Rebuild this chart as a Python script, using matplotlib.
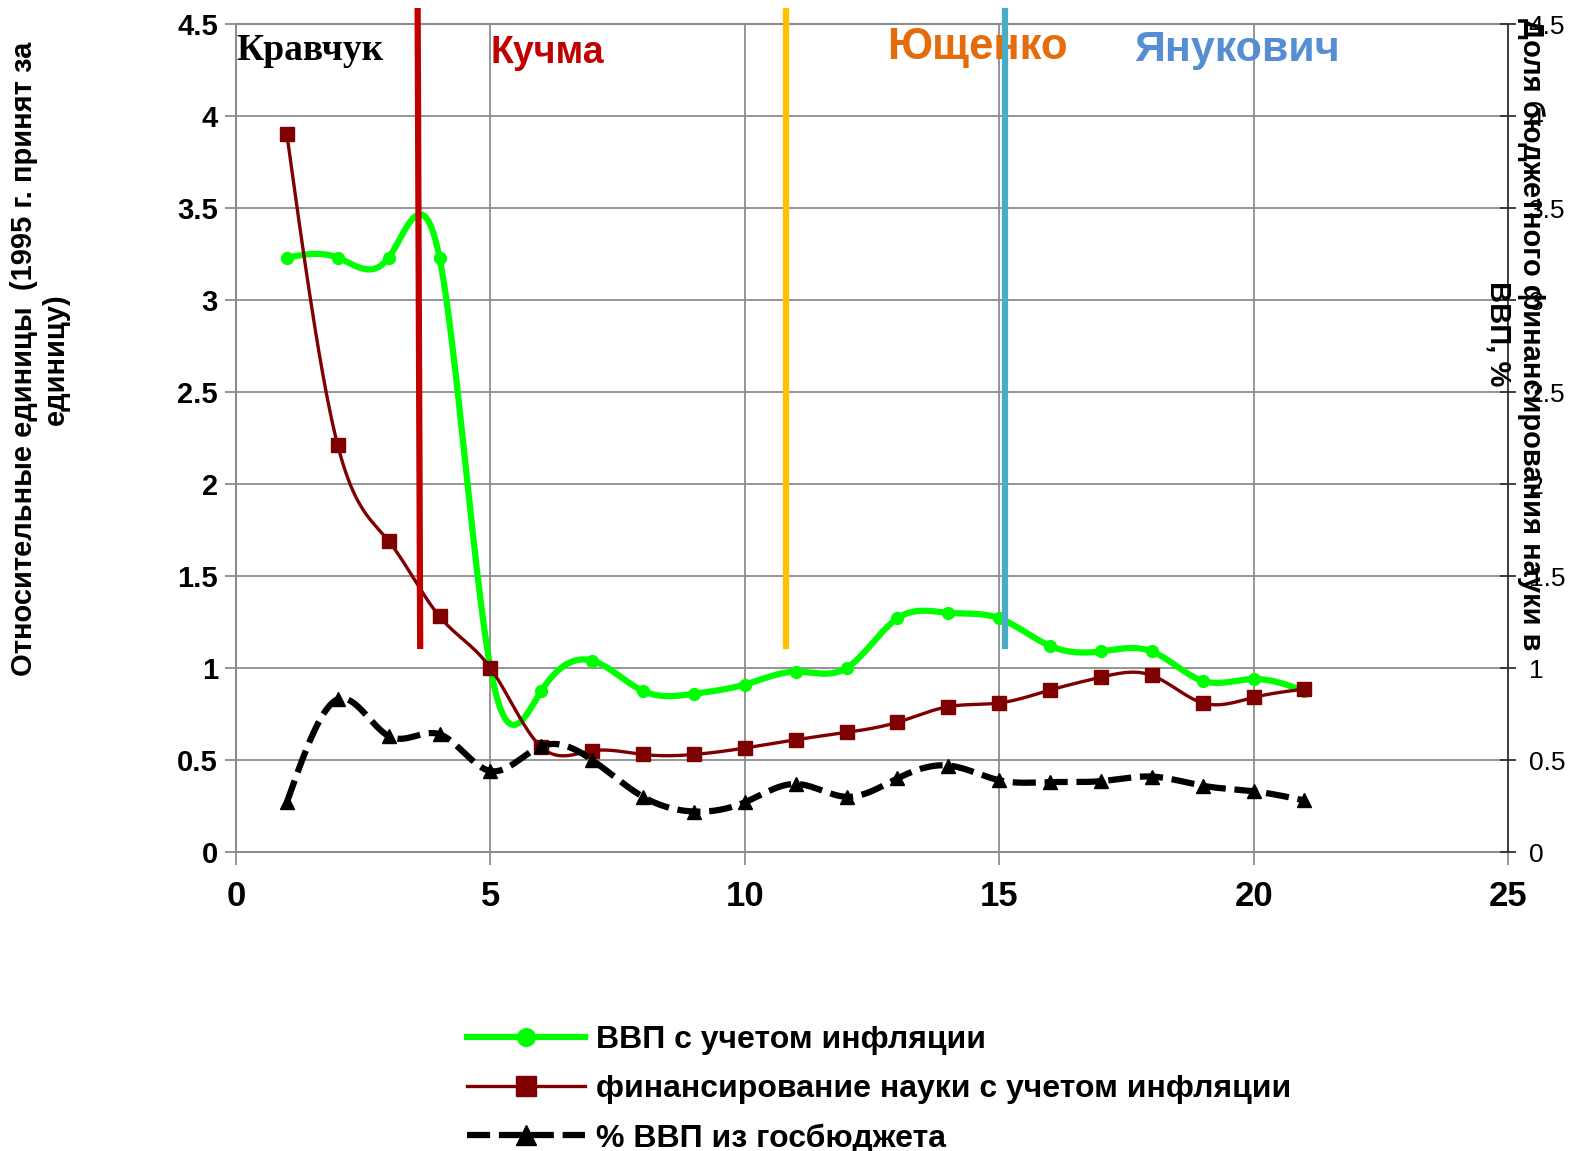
import numpy as np
import matplotlib
matplotlib.use("Agg")
import matplotlib.pyplot as plt
from matplotlib.lines import Line2D

plt.rcParams['font.family'] = ['Liberation Sans', 'DejaVu Sans']

# годы по порядку (1..21)
years = list(range(1, 22))
gdp = [3.23, 3.23, 3.23, 3.23, 1.00, 0.875, 1.04, 0.875, 0.86, 0.91, 0.98,
       1.00, 1.27, 1.30, 1.27, 1.12, 1.09, 1.09, 0.93, 0.94, 0.875]
science = [3.90, 2.21, 1.69, 1.28, 1.00, 0.57, 0.55, 0.53, 0.53, 0.565, 0.61,
           0.65, 0.705, 0.79, 0.81, 0.88, 0.95, 0.96, 0.81, 0.84, 0.885]
budget_share = [0.27, 0.83, 0.63, 0.64, 0.44, 0.575, 0.50, 0.30, 0.22, 0.27, 0.37,
                0.30, 0.40, 0.47, 0.39, 0.38, 0.385, 0.41, 0.36, 0.33, 0.28]

labels = ['ВВП с учетом инфляции',
          'финансирование науки с учетом инфляции',
          '% ВВП из госбюджета']

presidents = ['Кравчук', 'Кучма', 'Ющенко', 'Янукович']
president_x = [0.0, 5.0, 12.8, 17.65]
president_y = [4.355, 4.34, 4.37, 4.36]
president_size = [27, 27, 31.5, 31]
president_colors = ['black', '#C00000', '#E46C0A', '#558ED5']
# границы сроков: (x сверху, x снизу)
borders = [(3.57, 3.62), (10.81, 10.81), (15.12, 15.12)]
border_colors = ['#C00000', '#FFC000', '#4BACC6']


def natural_spline(x, y, n=800):
    x = np.asarray(x, float)
    y = np.asarray(y, float)
    k = len(x)
    h = np.diff(x)
    A = np.zeros((k, k))
    b = np.zeros(k)
    A[0, 0] = 1
    A[-1, -1] = 1
    for i in range(1, k - 1):
        A[i, i - 1] = h[i - 1]
        A[i, i] = 2 * (h[i - 1] + h[i])
        A[i, i + 1] = h[i]
        b[i] = 3 * ((y[i + 1] - y[i]) / h[i] - (y[i] - y[i - 1]) / h[i - 1])
    c = np.linalg.solve(A, b)
    bb = (y[1:] - y[:-1]) / h - h * (2 * c[:-1] + c[1:]) / 3
    d = (c[1:] - c[:-1]) / (3 * h)
    xs = np.linspace(x[0], x[-1], n)
    idx = np.clip(np.searchsorted(x, xs, side='right') - 1, 0, k - 2)
    t = xs - x[idx]
    ys = y[idx] + bb[idx] * t + c[idx] * t ** 2 + d[idx] * t ** 3
    return xs, ys


fig = plt.figure(figsize=(15.72, 11.51), dpi=100)
ax = fig.add_axes([236 / 1572, 299 / 1151, 1272 / 1572, 828 / 1151])
ax2 = ax.twinx()

grid_col = '#8c8c8c'
ax.set_xlim(0, 25)
ax.set_ylim(0, 4.5)
ax2.set_ylim(0, 4.5)
ax.set_xticks(range(0, 26, 5))
ax.set_yticks(np.arange(0, 4.51, 0.5))
ax2.set_yticks(np.arange(0, 4.51, 0.5))
ax.set_yticklabels(['0', '0.5', '1', '1.5', '2', '2.5', '3', '3.5', '4', '4.5'])
ax2.set_yticklabels(['0', '0.5', '1', '1.5', '2', '2.5', '3', '3.5', '4', '4.5'])
ax.grid(True, color=grid_col, lw=1.3)
ax.set_axisbelow(True)

for s in ['left', 'bottom', 'top']:
    ax.spines[s].set_color(grid_col)
    ax.spines[s].set_linewidth(1.5)
ax.spines['right'].set_visible(False)
for s in ['left', 'bottom', 'top']:
    ax2.spines[s].set_visible(False)
ax2.spines['right'].set_color('#333333')
ax2.spines['right'].set_linewidth(1.3)

ax.tick_params(axis='y', direction='out', length=8, width=1.3, color=grid_col,
               pad=5, labelsize=21)
ax.tick_params(axis='x', direction='out', length=9, width=1.3, color=grid_col,
               pad=11, labelsize=25)
ax2.tick_params(axis='y', direction='inout', length=12, width=1.3, color='#333333',
                pad=9, labelsize=19)
for lab in ax.get_xticklabels() + ax.get_yticklabels():
    lab.set_fontweight('bold')

# кривые
xs, ys = natural_spline(years, gdp)
ax.plot(xs, ys, color='#00FF00', lw=4.5, solid_capstyle='round', zorder=3)
ax.plot(years, gdp, 'o', color='#00FF00', ms=8.5, zorder=3)

xs, ys = natural_spline(years, science)
ax.plot(xs, ys, color='#7F0000', lw=2.4, zorder=3)
ax.plot(years, science, 's', color='#7F0000', ms=10, zorder=3)

xs, ys = natural_spline(years, budget_share)
ax2.plot(xs, ys, color='black', lw=4.5, linestyle=(0, (3.7, 1.4)), zorder=3)
ax2.plot(years, budget_share, '^', color='black', ms=10, zorder=3)

# подписи президентов
for i, name in enumerate(presidents):
    fam = 'Liberation Serif' if name == 'Кравчук' else 'Liberation Sans'
    ax.text(president_x[i], president_y[i], name, family=fam,
            fontweight='bold', fontsize=president_size[i],
            color=president_colors[i], va='center', ha='left', zorder=4)

# вертикальные линии смены власти
for (xt, xb), col in zip(borders, border_colors):
    ax2.plot([xt, xb], [4.57, 1.12], color=col, lw=4.5, clip_on=False, zorder=5)

fig.text(40 / 1572, 1 - 359 / 1151,
         'Относительные единицы  (1995 г. принят за\nединицу)',
         rotation=90, ha='center', va='center', fontsize=21,
         fontweight='bold', multialignment='center')
fig.text(1515 / 1572, 1 - 334 / 1151,
         'Доля бюджетного финансирования науки в\nВВП, %',
         rotation=270, ha='center', va='center', fontsize=21,
         fontweight='bold', multialignment='center')

handles = [
    Line2D([], [], color='#00FF00', lw=4.5, marker='o', ms=8.5),
    Line2D([], [], color='#7F0000', lw=2.4, marker='s', ms=10),
    Line2D([], [], color='black', lw=4.5, linestyle=(0, (3.7, 1.4)), marker='^', ms=10),
]
fig.legend(handles, labels, loc='upper left', bbox_to_anchor=(467 / 1572, 1 - 1025 / 1151),
           frameon=False, borderpad=0, borderaxespad=0, handlelength=3.7,
           handletextpad=0.35, labelspacing=0.6, markerscale=1.5,
           prop={'weight': 'bold', 'size': 23})

fig.savefig('out.png', dpi=100)
